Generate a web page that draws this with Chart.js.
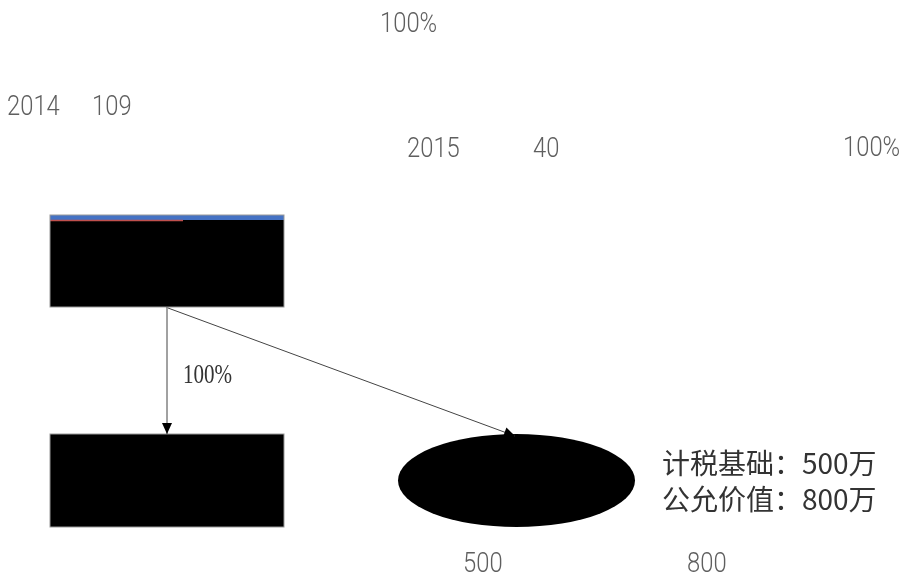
<!DOCTYPE html>
<html>
<head>
<meta charset="utf-8">
<script src="https://cdn.jsdelivr.net/npm/chart.js@4.4.1/dist/chart.umd.min.js"></script>
<style>
  html, body { margin: 0; padding: 0; background: #fff; }
  #wrap { width: 901px; height: 581px; }
</style>
</head>
<body>
<div id="wrap"><canvas id="diagram" width="901" height="581"></canvas></div>
<script>
// values shown in the picture
const years = ['2014', '2015'];
const amounts = [109, 40];
const ratios = ['100%', '100%', '100%'];
const noteLabels = ['计税基础', '公允价值'];
const noteValues = [500, 800];
const unit = '万';

// where each piece sits (canvas units, y grows down)
const layout = {
  topBox: { x0: 50, y0: 215, x1: 284, y1: 307 },
  bottomBox: { x0: 50, y0: 434, x1: 284, y1: 527 },
  ellipse: { cx: 516.5, cy: 480.5, rx: 118.5, ry: 46.5 },
  arrows: [
    { from: [167, 307], to: [167, 434] },
    { from: [168, 308], to: [515, 436] }
  ]
};

const grayFont = { font: '300 28px Roboto, "Open Sans", sans-serif', color: '#5f5f5f', sx: 0.85 };
const serifFont = { font: '27px "Liberation Serif", "DejaVu Serif", serif', color: '#333', sx: 0.78 };
const cjkFont = { font: '28px "Noto Sans CJK SC", sans-serif', color: '#333', sx: 1 };

const texts = [
  { t: ratios[0], x: 380, y: 32, f: grayFont },
  { t: years[0], x: 7, y: 115, f: grayFont },
  { t: String(amounts[0]), x: 92, y: 115, f: grayFont },
  { t: years[1], x: 407, y: 157, f: grayFont },
  { t: String(amounts[1]), x: 533, y: 157, f: grayFont },
  { t: ratios[1], x: 843, y: 156, f: grayFont },
  { t: ratios[2], x: 183, y: 383, f: serifFont },
  { t: noteLabels[0] + '：' + noteValues[0] + unit, x: 662, y: 474, f: cjkFont },
  { t: noteLabels[1] + '：' + noteValues[1] + unit, x: 662, y: 510, f: cjkFont },
  { t: String(noteValues[0]), x: 463, y: 572, f: grayFont },
  { t: String(noteValues[1]), x: 687, y: 572, f: grayFont }
];

const diagramPlugin = {
  id: 'diagram',
  afterDraw(chart) {
    const ctx = chart.ctx;
    const sx = v => chart.scales.x.getPixelForValue(v);
    const sy = v => chart.scales.y.getPixelForValue(v);

    ctx.save();

    // top box with blue / red strip on the upper edge
    const tb = layout.topBox;
    ctx.fillStyle = '#000';
    ctx.fillRect(sx(tb.x0), sy(tb.y0), sx(tb.x1) - sx(tb.x0), sy(tb.y1) - sy(tb.y0));
    ctx.fillStyle = '#4472c4';
    ctx.fillRect(sx(tb.x0), sy(tb.y0), sx(tb.x1) - sx(tb.x0), sy(tb.y0 + 5) - sy(tb.y0));
    ctx.strokeStyle = '#c0504d';
    ctx.lineWidth = 1.5;
    ctx.beginPath();
    ctx.moveTo(sx(tb.x0), sy(tb.y0 + 5.5));
    ctx.lineTo(sx(183), sy(tb.y0 + 5.5));
    ctx.stroke();
    ctx.strokeStyle = '#999';
    ctx.lineWidth = 1;
    ctx.strokeRect(sx(tb.x0), sy(tb.y0), sx(tb.x1) - sx(tb.x0), sy(tb.y1) - sy(tb.y0));

    // bottom box
    const bb = layout.bottomBox;
    ctx.fillStyle = '#000';
    ctx.fillRect(sx(bb.x0), sy(bb.y0), sx(bb.x1) - sx(bb.x0), sy(bb.y1) - sy(bb.y0));
    ctx.strokeStyle = '#999';
    ctx.strokeRect(sx(bb.x0), sy(bb.y0), sx(bb.x1) - sx(bb.x0), sy(bb.y1) - sy(bb.y0));

    // ellipse
    const el = layout.ellipse;
    ctx.beginPath();
    ctx.ellipse(sx(el.cx), sy(el.cy), sx(el.cx + el.rx) - sx(el.cx), sy(el.cy + el.ry) - sy(el.cy), 0, 0, Math.PI * 2);
    ctx.fillStyle = '#000';
    ctx.fill();

    // arrows
    layout.arrows.forEach(a => {
      const x0 = sx(a.from[0]), y0 = sy(a.from[1]);
      const x1 = sx(a.to[0]), y1 = sy(a.to[1]);
      ctx.strokeStyle = '#444';
      ctx.lineWidth = 1;
      ctx.beginPath();
      ctx.moveTo(x0, y0);
      ctx.lineTo(x1, y1);
      ctx.stroke();
      const ang = Math.atan2(y1 - y0, x1 - x0);
      const len = 11, half = 5;
      const bx = x1 - len * Math.cos(ang), by = y1 - len * Math.sin(ang);
      ctx.beginPath();
      ctx.moveTo(x1, y1);
      ctx.lineTo(bx + half * Math.sin(ang), by - half * Math.cos(ang));
      ctx.lineTo(bx - half * Math.sin(ang), by + half * Math.cos(ang));
      ctx.closePath();
      ctx.fillStyle = '#000';
      ctx.fill();
    });

    // texts
    texts.forEach(item => {
      ctx.save();
      ctx.font = item.f.font;
      ctx.fillStyle = item.f.color;
      ctx.textAlign = 'left';
      ctx.textBaseline = 'alphabetic';
      ctx.translate(sx(item.x), sy(item.y));
      ctx.scale(item.f.sx, 1);
      ctx.fillText(item.t, 0, 0);
      ctx.restore();
    });

    ctx.restore();
  }
};

const chart = new Chart(document.getElementById('diagram'), {
  type: 'scatter',
  data: { datasets: [{ data: [], showLine: false }] },
  options: {
    responsive: false,
    animation: false,
    layout: { padding: 0 },
    plugins: { legend: { display: false }, tooltip: { enabled: false } },
    scales: {
      x: { type: 'linear', min: 0, max: 901, display: false },
      y: { type: 'linear', min: 0, max: 581, reverse: true, display: false }
    }
  },
  plugins: [diagramPlugin]
});
</script>
</body>
</html>
